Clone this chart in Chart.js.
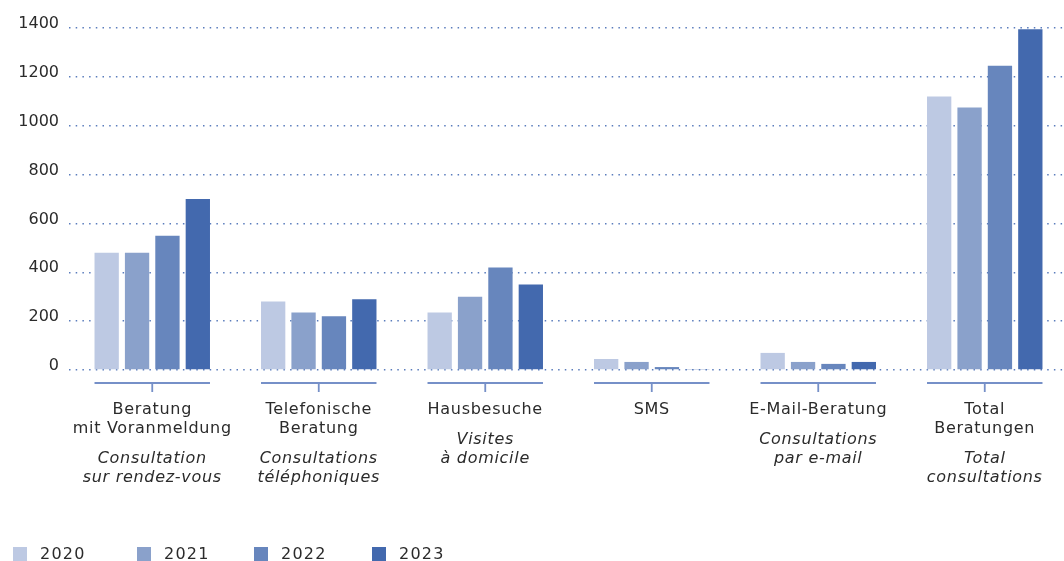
<!DOCTYPE html>
<html>
<head>
<meta charset="utf-8">
<script src="https://cdn.jsdelivr.net/npm/chart.js@4.4.0/dist/chart.umd.min.js"></script>
<style>
    html, body { margin: 0; padding: 0; background: #fff; overflow: hidden; }
    #wrap { position: relative; width: 1068px; height: 561px; }
</style>
</head>
<body>
<div id="wrap"><canvas id="chart"></canvas></div>
<script>
const categories = ['Beratung mit Voranmeldung', 'Telefonische Beratung', 'Hausbesuche', 'SMS', 'E-Mail-Beratung', 'Total Beratungen'];
const labelsDe = [['Beratung', 'mit Voranmeldung'], ['Telefonische', 'Beratung'], ['Hausbesuche'], ['SMS'], ['E-Mail-Beratung'], ['Total', 'Beratungen']];
const labelsFr = [['Consultation', 'sur rendez-vous'], ['Consultations', 'téléphoniques'], ['Visites', 'à domicile'], [], ['Consultations', 'par e-mail'], ['Total', 'consultations']];
const years = ['2020', '2021', '2022', '2023'];
const values2020 = [480, 280, 235, 45, 70, 1120];
const values2021 = [480, 235, 300, 33, 33, 1075];
const values2022 = [550, 220, 420, 12, 25, 1245];
const values2023 = [700, 290, 350, 4, 33, 1395];
const yTicks = [0, 200, 400, 600, 800, 1000, 1200, 1400];
const colors = ['#bdc9e3', '#8aa1cb', '#6786bd', '#4369ae'];

const textColor = '#2b2b2b';
const fontFamily = '"DejaVu Sans", sans-serif';

// brackets under each group, bilingual labels and the legend
const groupLabels = {
    id: 'groupLabels',
    afterDraw(chart) {
        const ctx = chart.ctx;
        const xScale = chart.scales.x;
        const first = chart.getDatasetMeta(0);
        const last = chart.getDatasetMeta(chart.data.datasets.length - 1);
        const base = chart.chartArea.bottom;

        ctx.save();
        ctx.letterSpacing = '0.7px';
        categories.forEach((cat, i) => {
            const cx = xScale.getPixelForValue(i);
            const b0 = first.data[i], b1 = last.data[i];
            const left = b0.x - b0.width / 2;
            const right = b1.x + b1.width / 2;

            ctx.strokeStyle = '#7690c8';
            ctx.lineWidth = 1.8;
            ctx.beginPath();
            ctx.moveTo(left, base + 13);
            ctx.lineTo(right, base + 13);
            ctx.moveTo(cx, base + 13);
            ctx.lineTo(cx, base + 22);
            ctx.stroke();

            ctx.fillStyle = textColor;
            ctx.textAlign = 'center';
            ctx.textBaseline = 'middle';
            let y = base + 40;
            ctx.font = '16px ' + fontFamily;
            labelsDe[i].forEach(line => {
                ctx.fillText(line, cx, y);
                y += 19;
            });
            y += 11;
            ctx.font = 'italic 16px ' + fontFamily;
            labelsFr[i].forEach(line => {
                ctx.fillText(line, cx, y);
                y += 19;
            });
        });

        // legend
        const legendX = [13, 137, 254, 372];
        ctx.font = '16px ' + fontFamily;
        ctx.letterSpacing = '1.2px';
        ctx.textAlign = 'left';
        years.forEach((yr, i) => {
            ctx.fillStyle = colors[i];
            ctx.fillRect(legendX[i], 547, 14, 14);
            ctx.fillStyle = textColor;
            ctx.fillText(yr, legendX[i] + 27, 555);
        });
        ctx.restore();
    }
};

const seriesValues = [values2020, values2021, values2022, values2023];

new Chart(document.getElementById('chart'), {
    type: 'bar',
    data: {
        labels: categories,
        datasets: years.map((yr, i) => ({
            label: yr,
            data: seriesValues[i],
            backgroundColor: colors[i],
            borderWidth: 0,
            categoryPercentage: 0.73,
            barPercentage: 0.8
        }))
    },
    options: {
        responsive: true,
        maintainAspectRatio: false,
        animation: false,
        layout: { padding: { top: 28, right: 0, bottom: 0, left: 0 } },
        plugins: {
            legend: { display: false },
            tooltip: { enabled: false }
        },
        scales: {
            x: {
                grid: { display: false },
                border: { display: false },
                ticks: { display: false },
                afterFit(scale) { scale.height = 191; }
            },
            y: {
                min: 0,
                max: 1400,
                afterBuildTicks(scale) { scale.ticks = yTicks.map(v => ({ value: v })); },
                afterFit(scale) { scale.width = 69; },
                grid: {
                    drawTicks: false,
                    color: '#5a7cbc',
                    lineWidth: 1.5
                },
                border: { display: false, dash: [1.5, 5.2] },
                ticks: {
                    padding: 10,
                    labelOffset: -4,
                    color: textColor,
                    font: { family: fontFamily, size: 16 },
                    callback: v => String(v)
                }
            }
        }
    },
    plugins: [groupLabels]
});
</script>
</body>
</html>
